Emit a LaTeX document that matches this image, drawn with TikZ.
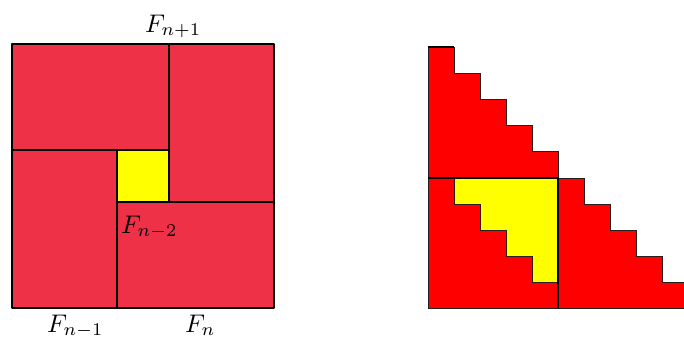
\documentclass[tikz,border=0pt]{standalone}
\definecolor{lred}{RGB}{239,49,72}
\definecolor{rred}{RGB}{255,0,0}
\definecolor{yel}{RGB}{255,255,0}
\definecolor{edge}{RGB}{40,30,30}
\newcommand{\biglbl}[1]{\scalebox{2.55}{$#1$}}
\begin{document}
\begin{tikzpicture}[x=1pt,y=-1pt,
  lbl/.style={inner sep=0pt, anchor=base west},
  thick line/.style={line width=1.5pt, line join=round, draw=black},
  thin line/.style={line width=0.9pt, draw=edge, line join=miter}]
\useasboundingbox (0,0) rectangle (684,338);
% ---------- left figure ----------
\fill[lred] (12,44) rectangle (274,308);
\fill[yel] (117,150) rectangle (169,202);
\draw[thick line] (12,44) rectangle (274,308);
\draw[thick line] (12,150) -- (169,150);
\draw[thick line] (169,44) -- (169,202);
\draw[thick line] (117,150) -- (117,308);
\draw[thick line] (117,202) -- (274,202);
\node[lbl] (fn1) at (145,32) {\biglbl{F_{n+1}}};
\node[lbl] (fn2) at (121,233) {\biglbl{F_{n-2}}};
\node[lbl] (fnm1) at (47,332) {\biglbl{F_{n-1}}};
\node[lbl] (fn) at (185,332) {\biglbl{F_{n}}};
% ---------- right figure ----------
\filldraw[fill=rred, thin line] (428,47) -| (454,73) -| (480,99) -| (506,125) -| (532,151) -| (558,178) -- (428,178) -- cycle;
\filldraw[fill=rred, thin line] (428,178) rectangle (558,308);
\filldraw[fill=yel, thin line] (454,178) -- (558,178) -- (558,282) -- (532,282) -- (532,256) -- (506,256) -- (506,230) -- (480,230) -- (480,204) -- (454,204) -- cycle;
\fill[rred] (558,178) -| (584,204) -| (610,230) -| (636,256) -| (662,282) -| (684,308) -- (558,308) -- cycle;
\draw[thin line] (684,308) -- (558,308) -- (558,178) -| (584,204) -| (610,230) -| (636,256) -| (662,282) -- (684,282);
\draw[thin line, line width=1.3pt, draw=black] (428,178) -- (558,178) -- (558,308);
\draw[line width=1.5pt] (428,47) -- (454,47);
\end{tikzpicture}
\end{document}
